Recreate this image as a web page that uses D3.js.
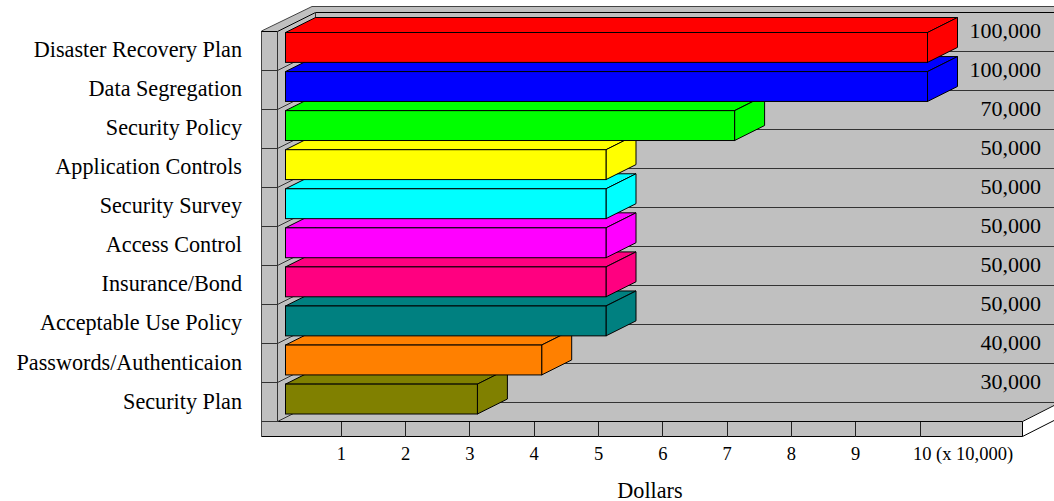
<!DOCTYPE html>
<html>
<head>
<meta charset="utf-8">
<script src="https://cdn.jsdelivr.net/npm/d3@7/dist/d3.min.js"></script>
<style>
html, body { margin: 0; padding: 0; background: #fff; }
svg { display: block; }
text { font-family: "Liberation Serif", "Times New Roman", serif; fill: #000; }
</style>
</head>
<body>
<svg id="chart" width="1054" height="501"></svg>
<script>
// Dollar amounts per security category
const categories = ["Disaster Recovery Plan", "Data Segregation", "Security Policy", "Application Controls",
  "Security Survey", "Access Control", "Insurance/Bond", "Acceptable Use Policy", "Passwords/Authenticaion", "Security Plan"];
const amounts = [100000, 100000, 70000, 50000, 50000, 50000, 50000, 50000, 40000, 30000];
const barColors = ["#ff0000", "#0000ff", "#00ff00", "#ffff00", "#00ffff", "#ff00ff", "#ff0080", "#008080", "#ff8000", "#808000"];
const tickValues = [1, 2, 3, 4, 5, 6, 7, 8, 9, 10];
const tickUnit = 10000;
const axisTitle = "Dollars";

const GRAY = "#c0c0c0", LINE = "#000";
const svg = d3.select("#chart");

// Scales: x is in units of 10,000 dollars, y gives one band per category
const x = d3.scaleLinear().domain([0, 10]).range([277, 920]);
const y = d3.scaleBand().domain(categories).range([32.5, 414]).paddingInner(0.235);
const step = y.step();

const barInset = 7.5;       // bars sit slightly in front of the side wall
const depthX = 30, depthY = 15;

const path = pts => d3.line()(pts) + "Z";
const room = svg.append("g").attr("stroke-linejoin", "miter");

// Outer shell: side slab, floor slab and top band
room.append("path")
  .attr("d", path([[261.5, 31], [312, 6.5], [1054, 6.5], [1054, 405], [1022.5, 421], [1022.5, 436.5], [261.5, 436.5]]))
  .attr("fill", GRAY).attr("stroke", "none");
room.append("path").attr("d", d3.line()([[261.5, 436.5], [261.5, 31], [312, 6.5], [1054, 6.5]]))
  .attr("fill", "none").attr("stroke", "#444").attr("stroke-width", 1);
room.append("path").attr("d", d3.line()([[261.5, 436.5], [1022.5, 436.5], [1054, 420.5]]))
  .attr("fill", "none").attr("stroke", LINE);
room.append("path").attr("d", d3.line()([[1022.5, 436.5], [1022.5, 421.5], [1054, 405.5]]))
  .attr("fill", "none").attr("stroke", LINE);

// Inner wall edges and the floor's front edge
room.append("path").attr("d", d3.line()([[261.5, 31.5], [277.5, 31.5], [315.5, 12.5], [1054, 12.5]]))
  .attr("fill", "none").attr("stroke", LINE);
room.append("line").attr("x1", 277.5).attr("x2", 277.5).attr("y1", 31.5).attr("y2", 421.5).attr("stroke", "#333");
room.append("line").attr("x1", 315.5).attr("x2", 315.5).attr("y1", 12.5).attr("y2", 403).attr("stroke", "#333");
room.append("line").attr("x1", 277.5).attr("x2", 1022.5).attr("y1", 421.5).attr("y2", 421.5).attr("stroke", LINE);

// Category rules running along the side wall and back wall
const rules = d3.range(1, 11);
room.selectAll("path.rule").data(rules).join("path").attr("class", "rule")
  .attr("d", i => {
    const yf = Math.round(30.5 + i * step) + 0.5;
    return d3.line()([[261.5, yf], [277.5, yf], [315.5, yf - 19], [1054, yf - 19]]);
  })
  .attr("fill", "none").attr("stroke", "#333");

// Value axis: ticks cross the front of the floor slab
const axis = d3.axisBottom(x).tickValues(tickValues).tickSizeInner(15).tickSizeOuter(0).tickPadding(10).offset(0)
  .tickFormat(d => d === 10 ? "10 (x 10,000)" : String(d));
const axisG = svg.append("g").attr("transform", "translate(0,421.5)").call(axis);
axisG.select(".domain").remove();
axisG.selectAll("line").attr("stroke", "#222").attr("shape-rendering", "crispEdges");
axisG.selectAll("text").attr("font-size", 18.5).attr("font-family", "Liberation Serif").attr("fill", "#000");
axisG.selectAll(".tick").filter(d => d === 10).select("text").attr("x", 43);

// Bars drawn bottom-up so each one overlaps the bar beneath it
const rows = categories.map((c, i) => ({ c, v: amounts[i], color: barColors[i] }));
const bars = svg.append("g").selectAll("g").data(rows.slice().reverse()).join("g")
  .attr("fill", d => d.color).attr("stroke", LINE).attr("stroke-width", 1);

const barLeft = x(0) + 8.5;
const barRight = d => x(d.v / tickUnit) + barInset;
const barTop = d => y(d.c), barBottom = d => y(d.c) + y.bandwidth();

bars.append("path").attr("d", d => path([[barLeft, barTop(d)], [barLeft + depthX, barTop(d) - depthY],
  [barRight(d) + depthX, barTop(d) - depthY], [barRight(d), barTop(d)]]));
bars.append("path").attr("d", d => path([[barRight(d), barTop(d)], [barRight(d) + depthX, barTop(d) - depthY],
  [barRight(d) + depthX, barBottom(d) - depthY], [barRight(d), barBottom(d)]]));
bars.append("rect").attr("x", barLeft).attr("y", d => barTop(d))
  .attr("width", d => barRight(d) - barLeft).attr("height", y.bandwidth());

// Category labels on the left, amounts on the right
svg.append("g").selectAll("text").data(categories).join("text")
  .attr("x", 242).attr("y", c => y(c) + 24.5)
  .attr("text-anchor", "end").attr("font-size", 22.2).text(c => c);

svg.append("g").selectAll("text").data(rows).join("text")
  .attr("x", 1041).attr("y", d => y(d.c) + 5.2)
  .attr("text-anchor", "end").attr("font-size", 22).text(d => d3.format(",")(d.v));

svg.append("text").attr("x", 650).attr("y", 497.5).attr("text-anchor", "middle").attr("font-size", 22.2).text(axisTitle);
</script>
</body>
</html>
